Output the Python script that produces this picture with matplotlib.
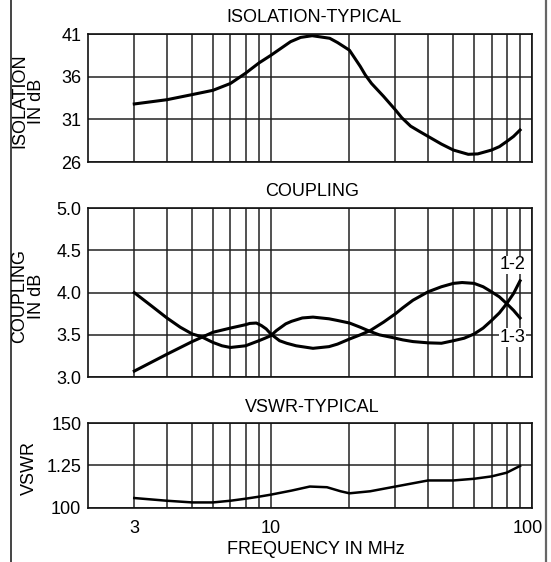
import matplotlib
matplotlib.use("Agg")
import matplotlib.pyplot as plt
import matplotlib.transforms as mtransforms
from matplotlib.lines import Line2D

plt.rcParams["font.family"] = ["Liberation Sans", "DejaVu Sans"]

iso_freq = [3, 4, 5, 6, 7, 8, 9, 10, 11.9, 13, 14.4, 16.8, 18, 20, 22, 23, 24.3, 27, 30, 31.7, 34.3,
            37, 40, 45, 50, 57, 62, 70, 75, 80, 85, 90]
iso_db = [32.8, 33.3, 33.9, 34.4, 35.2, 36.4, 37.6, 38.5, 40.1, 40.6, 40.8, 40.5, 40.0, 39.1, 37.2,
          36.2, 35.2, 33.7, 32.1, 31.2, 30.2, 29.6, 29.0, 28.1, 27.4, 26.9, 26.95, 27.4, 27.8, 28.4,
          29.0, 29.75]

cpl_a_freq = [3, 3.5, 4, 4.5, 5, 5.4, 6, 6.5, 7, 8, 9, 9.5, 10, 10.5, 11.4, 12, 13.2, 14.5, 16.7, 18,
              20, 22, 24, 26, 29, 32, 35, 40, 45, 50, 55, 60, 65, 70, 75, 80, 85, 90]
cpl_a_db = [4.00, 3.84, 3.70, 3.59, 3.51, 3.48, 3.41, 3.37, 3.35, 3.37, 3.43, 3.46, 3.49, 3.55, 3.63,
            3.66, 3.70, 3.71, 3.69, 3.67, 3.64, 3.59, 3.54, 3.50, 3.47, 3.44, 3.42, 3.405, 3.40, 3.43,
            3.46, 3.51, 3.58, 3.67, 3.76, 3.87, 3.99, 4.14]

cpl_b_freq = [3, 4, 5, 6, 7, 8, 8.3, 8.8, 9.2, 9.6, 10, 10.8, 11.5, 12.5, 14.5, 16.7, 18, 20, 22, 24,
              27, 30, 32, 35, 40, 45, 50, 54, 60, 65, 70, 75, 80, 85, 90]
cpl_b_db = [3.07, 3.27, 3.42, 3.53, 3.58, 3.62, 3.635, 3.64, 3.61, 3.57, 3.51, 3.43, 3.40, 3.37, 3.34,
            3.36, 3.39, 3.45, 3.50, 3.55, 3.65, 3.75, 3.82, 3.91, 4.01, 4.07, 4.11, 4.12, 4.11, 4.07,
            4.01, 3.95, 3.87, 3.79, 3.70]

vswr_freq = [3, 4, 5, 6, 7, 8, 9, 10, 12, 14.1, 16.4, 18.5, 20, 24, 30, 40, 50, 60, 70, 80, 90]
vswr = [1.056, 1.04, 1.03, 1.03, 1.04, 1.052, 1.064, 1.076, 1.10, 1.124, 1.12, 1.096, 1.084, 1.096,
        1.124, 1.16, 1.16, 1.17, 1.184, 1.206, 1.246]

x_major = [3, 10, 100]
x_major_labels = ["3", "10", "100"]
x_minor = [4, 5, 6, 7, 8, 9, 20, 30, 40, 50, 60, 70, 80, 90]

iso_ticks = [26, 31, 36, 41]
cpl_ticks = [3.0, 3.5, 4.0, 4.5, 5.0]
cpl_labels = ["3.0", "3.5", "4.0", "4.5", "5.0"]
vswr_ticks = [1.0, 1.25, 1.5]
vswr_labels = ["100", "1.25", "150"]

W, H = 551, 562
FS = 13


def rect(top, bottom, left=88.3, right=532):
    return [left / W, 1 - bottom / H, (right - left) / W, (bottom - top) / H]


fig = plt.figure(figsize=(W / 100, H / 100), dpi=100)
ax1 = fig.add_axes(rect(34, 162))
ax2 = fig.add_axes(rect(208.3, 377))
ax3 = fig.add_axes(rect(423, 507.5))

for ax in (ax1, ax2, ax3):
    ax.set_xscale("log")
    ax.set_xlim(2, 100)
    ax.set_xticks(x_major)
    ax.set_xticks(x_minor, minor=True)
    ax.set_xticklabels(x_major_labels)
    ax.xaxis.set_minor_formatter(plt.NullFormatter())
    ax.grid(True, which="both", color="#222222", lw=1.1)
    ax.tick_params(which="both", length=0, labelsize=FS)
    ax.tick_params(axis="y", pad=5)
    ax.tick_params(axis="x", pad=9)
    for s in ax.spines.values():
        s.set_linewidth(1.2)
        s.set_color("#111111")

ax1.tick_params(axis="x", labelbottom=False)
ax2.tick_params(axis="x", labelbottom=False)

ax1.set_ylim(26, 41)
ax1.set_yticks(iso_ticks)
ax1.plot(iso_freq, iso_db, color="black", lw=2.2)

ax2.set_ylim(3.0, 5.0)
ax2.set_yticks(cpl_ticks)
ax2.set_yticklabels(cpl_labels)
ax2.plot(cpl_a_freq, cpl_a_db, color="black", lw=2.2)
ax2.plot(cpl_b_freq, cpl_b_db, color="black", lw=2.2)
ax2.text(84, 4.33, "1-2", fontsize=FS, ha="center", va="center",
         bbox=dict(facecolor="white", edgecolor="none", pad=0.5))
ax2.text(84, 3.47, "1-3", fontsize=FS, ha="center", va="center",
         bbox=dict(facecolor="white", edgecolor="none", pad=0.5))

ax3.set_ylim(1.0, 1.5)
ax3.set_yticks(vswr_ticks)
ax3.set_yticklabels(vswr_labels)
ax3.plot(vswr_freq, vswr, color="black", lw=1.8)

# nudge the "100" label left a little, like the reference
lbl = ax3.get_xticklabels()[-1]
lbl.set_transform(lbl.get_transform() + mtransforms.ScaledTranslation(-4 / 100, 0, fig.dpi_scale_trans))

# titles and axis labels
fig.text(314 / W, 1 - 17 / H, "ISOLATION-TYPICAL", fontsize=FS, ha="center", va="center")
fig.text(312 / W, 1 - 192 / H, "COUPLING", fontsize=FS, ha="center", va="center")
fig.text(312 / W, 1 - 408 / H, "VSWR-TYPICAL", fontsize=FS, ha="center", va="center")
fig.text(316 / W, 1 - 549 / H, "FREQUENCY IN MHz", fontsize=FS, ha="center", va="center")

fig.text(28 / W, 1 - 101 / H, "ISOLATION\nIN dB", fontsize=FS, rotation=90,
         ha="center", va="center", multialignment="center", linespacing=1.0)
fig.text(28 / W, 1 - 296 / H, "COUPLING\nIN dB", fontsize=FS, rotation=90,
         ha="center", va="center", multialignment="center", linespacing=1.0)
fig.text(29 / W, 1 - 468 / H, "VSWR", fontsize=FS, rotation=90, ha="center", va="center")

# page frame lines at the sides
fig.add_artist(Line2D([11 / W, 11 / W], [0, 1], color="#444444", lw=1.4))
fig.add_artist(Line2D([546 / W, 546 / W], [0, 1], color="#666666", lw=1.6))

fig.savefig("out.png", dpi=100)
plt.close(fig)
